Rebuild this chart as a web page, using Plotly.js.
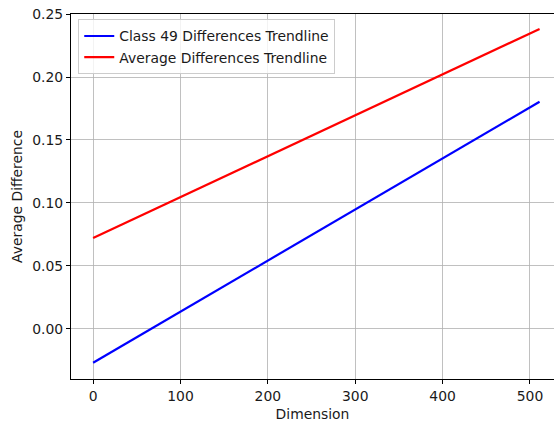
<!DOCTYPE html>
<html><head><meta charset="utf-8">
<script src="https://cdn.plot.ly/plotly-3.0.1.min.js"></script>
<style>html,body{margin:0;padding:0;background:#fff}#chart{width:554px;height:422px}</style>
</head><body><div id="chart"></div>
<script>
const dims = [0, 511];
const class49Trend = [-0.0268, 0.1804];
const avgTrend = [0.0722, 0.2381];
const seriesNames = ["Class 49 Differences Trendline", "Average Differences Trendline"];
const xTicks = [0, 100, 200, 300, 400, 500];
const yTicks = [0.00, 0.05, 0.10, 0.15, 0.20, 0.25];

const font = {family: "DejaVu Sans", size: 13.9, color: "#1a1a1a"};
const data = [
  {x: dims, y: class49Trend, mode: "lines", name: seriesNames[0], line: {color: "#0000ff", width: 2.2}},
  {x: dims, y: avgTrend, mode: "lines", name: seriesNames[1], line: {color: "#ff0000", width: 2.2}}
];
const axisCommon = {
  showline: true, linecolor: "#000", linewidth: 1,
  ticks: "outside", ticklen: 4, tickcolor: "#000", tickwidth: 1,
  showgrid: true, gridcolor: "#b0b0b0", gridwidth: 0.8,
  zeroline: false, tickfont: font
};
const layout = {
  width: 554, height: 422,
  margin: {l: 71, r: 0, t: 14, b: 43},
  paper_bgcolor: "#fff", plot_bgcolor: "#fff",
  font: font,
  showlegend: true,
  legend: {x: 0.015, y: 0.985, xanchor: "left", yanchor: "top",
    bgcolor: "rgba(255,255,255,0.8)", bordercolor: "#cccccc", borderwidth: 1,
    font: font, tracegroupgap: 0},
  xaxis: Object.assign({}, axisCommon, {
    range: [-25.3, 527.5], tickvals: xTicks, ticktext: xTicks.map(String),
    mirror: true,
    title: {text: "Dimension", font: font, standoff: 6}
  }),
  yaxis: Object.assign({}, axisCommon, {
    range: [-0.0397, 0.25], tickvals: yTicks, ticktext: yTicks.map(v => v.toFixed(2)),
    title: {text: "Average Difference", font: font, standoff: 6}
  })
};
Plotly.newPlot("chart", data, layout, {staticPlot: true, displayModeBar: false});
</script></body></html>
